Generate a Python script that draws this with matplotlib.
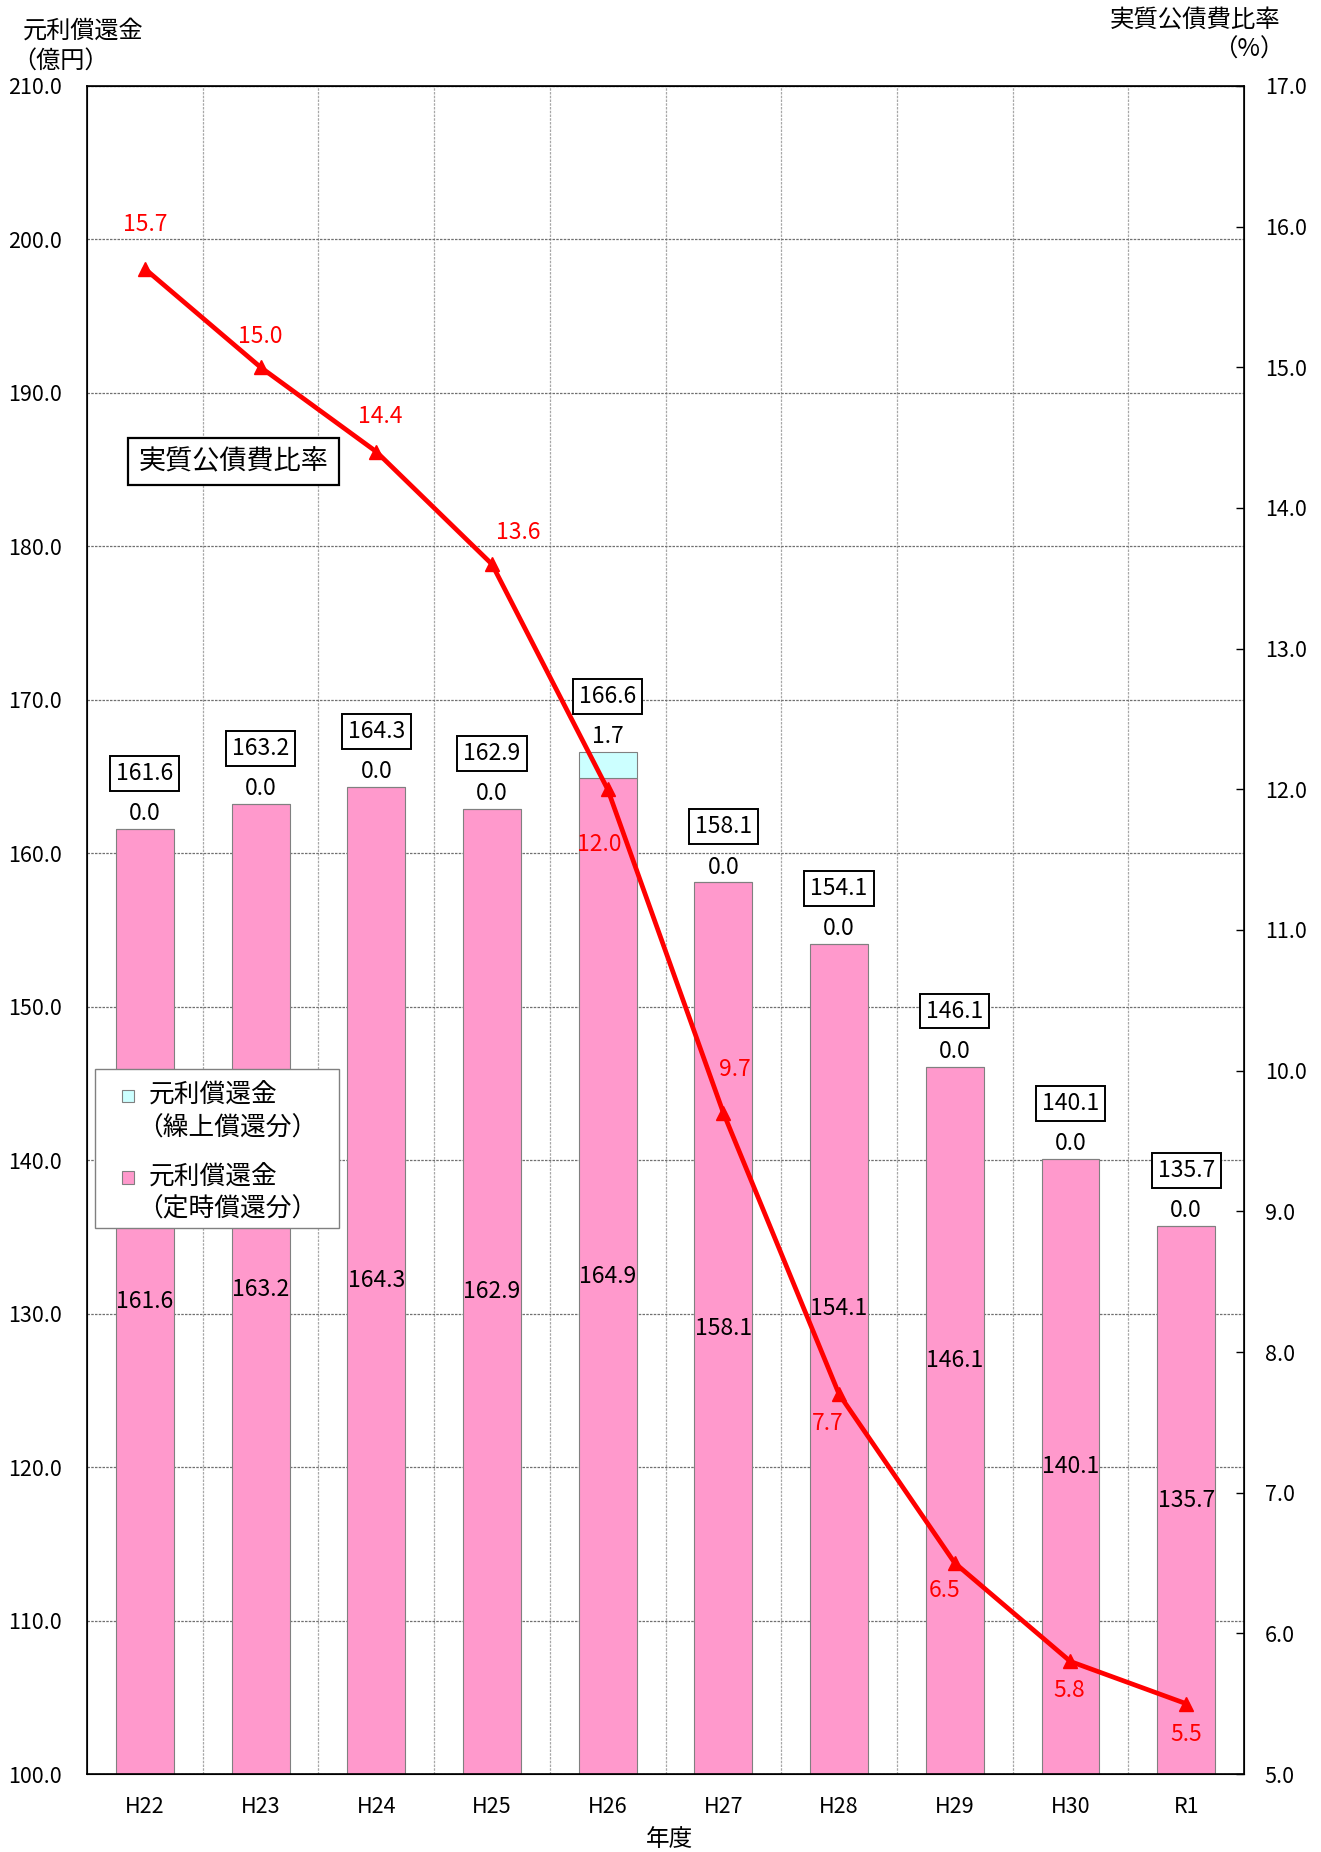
import matplotlib
matplotlib.use("Agg")
import matplotlib.pyplot as plt
from matplotlib.patches import Rectangle
from matplotlib.ticker import MultipleLocator, FormatStrFormatter
import numpy as np

plt.rcParams['font.family'] = ['Noto Sans CJK JP', 'DejaVu Sans']

years = ["H22", "H23", "H24", "H25", "H26", "H27", "H28", "H29", "H30", "R1"]
regular = [161.6, 163.2, 164.3, 162.9, 164.9, 158.1, 154.1, 146.1, 140.1, 135.7]
early = [0.0, 0.0, 0.0, 0.0, 1.7, 0.0, 0.0, 0.0, 0.0, 0.0]
totals = [161.6, 163.2, 164.3, 162.9, 166.6, 158.1, 154.1, 146.1, 140.1, 135.7]
ratio = [15.7, 15.0, 14.4, 13.6, 12.0, 9.7, 7.7, 6.5, 5.8, 5.5]

# label offsets (points)
ratio_off = [(0, 32), (0, 22), (3, 25), (19, 23), (-6, -40), (8, 31), (-8, -21), (-7, -20), (-1, -21), (0, -22)]
inner_off = [0, 0, 0, 0, 0, 0, 36, 43, 0, 0]

PINK = "#FF99CC"
CYAN = "#CCFFFF"
RED = "#FF0000"
NUM_FS = 16.5
TICK_FS = 15.5

fig = plt.figure(figsize=(13.21, 18.52), dpi=100)
ax = fig.add_axes([0.0659, 0.0421, 0.8758, 0.9115])
x = np.arange(len(years))
ymin, ymax = 100.0, 210.0

ax.bar(x, [r - ymin for r in regular], bottom=ymin, width=0.5, color=PINK,
       edgecolor="#808080", linewidth=0.8, zorder=2)
ax.bar(x, early, bottom=regular, width=0.5, color=CYAN,
       edgecolor="#808080", linewidth=0.8, zorder=2)

ax.set_xlim(-0.5, len(years) - 0.5)
ax.set_ylim(ymin, ymax)
ax.yaxis.set_major_locator(MultipleLocator(10))
ax.yaxis.set_major_formatter(FormatStrFormatter("%.1f"))
ax.set_xticks(x)
ax.set_xticklabels(years)
ax.set_xticks(np.arange(len(years) - 1) + 0.5, minor=True)
ax.tick_params(axis='x', which='major', length=0, pad=16, labelsize=TICK_FS)
ax.tick_params(axis='x', which='minor', length=0)
ax.tick_params(axis='y', which='major', direction='in', length=0, pad=18, labelsize=TICK_FS)
ax.grid(axis='y', which='major', linestyle=(0, (2, 1)), color='#707070', linewidth=0.9, zorder=0)
ax.grid(axis='x', which='minor', linestyle=(0, (2, 1)), color='#A8A8A8', linewidth=0.9, zorder=0)
ax.set_axisbelow(True)
for s in ax.spines.values():
    s.set_linewidth(1.2)

# bar labels
for i in range(len(years)):
    mid = (ymin + regular[i]) / 2
    ax.annotate(f"{regular[i]:.1f}", (x[i], mid), xytext=(0, inner_off[i]), textcoords='offset points',
                ha='center', va='center', fontsize=NUM_FS, zorder=5)
    ax.annotate(f"{early[i]:.1f}", (x[i], totals[i]), xytext=(0, 11), textcoords='offset points',
                ha='center', va='center', fontsize=NUM_FS, zorder=5)
    ax.annotate(f"{totals[i]:.1f}", (x[i], totals[i]), xytext=(0, 40), textcoords='offset points',
                ha='center', va='center', fontsize=NUM_FS, zorder=5,
                bbox=dict(boxstyle='square,pad=0.26', fc='white', ec='black', lw=1.4))

ax2 = ax.twinx()
ax2.set_ylim(5.0, 17.0)
ax2.yaxis.set_major_locator(MultipleLocator(1))
ax2.yaxis.set_major_formatter(FormatStrFormatter("%.1f"))
ax2.tick_params(axis='y', direction='in', length=6, width=1.0, pad=15, labelsize=TICK_FS)
ax2.plot(x, ratio, color=RED, linewidth=3.4, marker='^', markersize=10, zorder=6)
for i in range(len(years)):
    ax2.annotate(f"{ratio[i]:.1f}", (x[i], ratio[i]), xytext=ratio_off[i], textcoords='offset points',
                 ha='center', va='center', fontsize=NUM_FS, color=RED, zorder=7)

ax2.text(0.1265, 0.7775, "実質公債費比率", transform=ax2.transAxes, ha='center', va='center',
         fontsize=19.5, bbox=dict(boxstyle='square,pad=0.38', fc='white', ec='black', lw=1.6))

# legend (drawn in axes coordinates)
T = ax2.transAxes
ax2.add_patch(Rectangle((0.00714, 0.3233), 0.2102, 0.0945, transform=T, facecolor='white',
                        edgecolor='#808080', linewidth=1.0, zorder=10))
leg_items = [(CYAN, "元利償還金", "（繰上償還分）", 0.4017, 0.3821),
             (PINK, "元利償還金", "（定時償還分）", 0.3534, 0.3345)]
for col, l1, l2, y1, y2 in leg_items:
    ax2.add_patch(Rectangle((0.0357 - 0.0052, y1 - 0.0036), 0.0104, 0.0072, transform=T,
                            facecolor=col, edgecolor='#808080', linewidth=0.8, zorder=11))
    ax2.text(0.0531, y1, l1, transform=T, ha='left', va='center', fontsize=18.5, zorder=11)
    ax2.text(0.0431, y2, l2, transform=T, ha='left', va='center', fontsize=18.5, zorder=11)

fig.text(0.017, 0.9832, "元利償還金", ha='left', va='center', fontsize=17.4)
fig.text(0.009, 0.9675, "（億円）", ha='left', va='center', fontsize=17.4)
fig.text(0.969, 0.9895, "実質公債費比率", ha='right', va='center', fontsize=17.6)
fig.text(0.972, 0.9732, "（%）", ha='right', va='center', fontsize=17.6)
fig.text(0.507, 0.007, "年度", ha='center', va='center', fontsize=17)

fig.savefig("out.png", dpi=100)
